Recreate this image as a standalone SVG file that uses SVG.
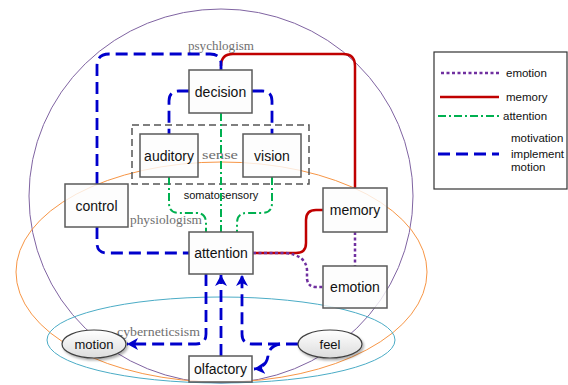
<svg xmlns="http://www.w3.org/2000/svg" width="568" height="385" viewBox="0 0 568 385">
<style>
.bg{fill:none;stroke-width:1}
.box{fill:#fcfcfc;fill-opacity:0.8;stroke:#5a5a5a;stroke-width:1.5}
.ell{fill:url(#eg);stroke:#404040;stroke-width:1.2}
.t{font-family:"Liberation Sans",Arial,sans-serif;font-size:14px;fill:#111;text-anchor:middle}
.te{font-family:"Liberation Sans",Arial,sans-serif;font-size:13px;fill:#111;text-anchor:middle}
.lg{font-family:"Liberation Sans",Arial,sans-serif;font-size:11.5px;fill:#111}
.sf{font-family:"Liberation Serif","Times New Roman",serif;font-size:12px;fill:#707070}
.blue{fill:none;stroke:#0000cc;stroke-width:2.8;stroke-dasharray:12 6}
.red{fill:none;stroke:#c00000;stroke-width:2.5}
.green{fill:none;stroke:#00b050;stroke-width:2;stroke-dasharray:8 3 2 3}
.purple{fill:none;stroke:#7030a0;stroke-width:2.5;stroke-dasharray:3 2.5}
</style>
<defs>
<linearGradient id="eg" x1="0" y1="0" x2="0" y2="1">
<stop offset="0" stop-color="#ffffff"/>
<stop offset="1" stop-color="#dcdcdc"/>
</linearGradient>
<filter id="sh" x="-20%" y="-30%" width="150%" height="170%">
<feDropShadow dx="1.5" dy="2" stdDeviation="1.2" flood-color="#000" flood-opacity="0.3"/>
</filter>
<marker id="ah" markerUnits="userSpaceOnUse" markerWidth="12" markerHeight="12" refX="11" refY="6" orient="auto">
<path d="M0,0 L11,6 L0,12 L3,6 Z" fill="#0000cc"/>
</marker>
</defs>

<g id="regions">
<ellipse class="bg" cx="221" cy="196" rx="192" ry="187" stroke="#8064a2"/>
<ellipse class="bg" cx="221.5" cy="272" rx="205.5" ry="110" stroke="#f79646"/>
<ellipse class="bg" cx="221" cy="340" rx="174" ry="43" stroke="#4bacc6"/>
<rect id="sense" x="132" y="125" width="177" height="59" fill="none" stroke="#555" stroke-width="1.5" stroke-dasharray="7 4"/>
</g>

<g id="labels">
<text class="sf" x="221" y="50" text-anchor="middle" textLength="66" lengthAdjust="spacingAndGlyphs">psychlogism</text>
<text class="sf" x="220" y="159" text-anchor="middle" font-size="13" textLength="36" lengthAdjust="spacingAndGlyphs">sense</text>
<text class="sf" x="130" y="224" textLength="72" lengthAdjust="spacingAndGlyphs">physiologism</text>
<text class="sf" x="117" y="336" textLength="83" lengthAdjust="spacingAndGlyphs">cyberneticsism</text>
<text x="221" y="199" font-family="Liberation Sans,Arial,sans-serif" font-size="11" fill="#111" text-anchor="middle">somatosensory</text>
</g>

<g id="connectors">
<path class="red" d="M221,66 Q221,54 233,54 H343 Q355,54 355,66 V188"/>
<path class="blue" d="M97,184 V66 Q97,54 109,54 H210 Q221,54 221,64 V70"/>
<path class="blue" d="M189,91 H179 Q169,91 169,101 V134"/>
<path class="blue" d="M252,91 H262 Q272,91 272,101 V134"/>
<path class="blue" d="M97,227 V243 Q97,253 107,253 H189"/>
<path class="blue" d="M206,274 V334 Q206,344 196,344 H127" marker-end="url(#ah)"/>
<path class="blue" d="M221,356 V275" marker-end="url(#ah)"/>
<path class="blue" d="M298,344 H252 Q242,344 242,334 V275" marker-end="url(#ah)"/>
<path class="blue" d="M280,344 Q269,346 268,356 Q266,368 254,369" marker-end="url(#ah)"/>
<path class="green" d="M221,113 V232"/>
<path class="green" d="M169,177 V203 Q169,213 179,213 H196 Q206,213 206,223 V232"/>
<path class="green" d="M272,177 V203 Q272,213 262,213 H247 Q237,213 237,223 V232"/>
<path class="red" d="M253,253 H296 Q306,253 306,243 V220 Q306,210 316,210 H323"/>
<path class="purple" d="M253,253 H285 Q306,255 307,270 V279 Q308,287 316,287 H323"/>
<path class="purple" d="M355,232 V266"/>
</g>

<g id="decision"><rect class="box" x="189" y="70" width="63" height="43"/><text class="t" x="220.5" y="96.5">decision</text></g>
<g id="auditory"><rect class="box" x="140" y="134" width="58" height="43"/><text class="t" x="169" y="160.5">auditory</text></g>
<g id="vision"><rect class="box" x="243" y="134" width="58" height="43"/><text class="t" x="272" y="160.5">vision</text></g>
<g id="control"><rect class="box" x="65" y="184" width="63" height="43"/><text class="t" x="96.5" y="210.5">control</text></g>
<g id="attention"><rect class="box" x="189" y="232" width="64" height="42"/><text class="t" x="221" y="258">attention</text></g>
<g id="memory"><rect class="box" x="323" y="188" width="64" height="44"/><text class="t" x="355" y="215">memory</text></g>
<g id="emotion"><rect class="box" x="323" y="266" width="64" height="42"/><text class="t" x="355" y="292">emotion</text></g>
<g id="olfactory"><rect class="box" x="189" y="356" width="63" height="26"/><text class="t" x="220.5" y="374">olfactory</text></g>
<g id="motion"><ellipse class="ell" cx="94" cy="344" rx="32" ry="14" filter="url(#sh)"/><text class="te" x="94" y="348.5">motion</text></g>
<g id="feel"><ellipse class="ell" cx="330" cy="344" rx="32" ry="14" filter="url(#sh)"/><text class="te" x="330" y="348.5">feel</text></g>

<g id="legend">
<rect x="434" y="52" width="133" height="137" fill="#fff" stroke="#333" stroke-width="1.2"/>
<line class="purple" x1="441" y1="73" x2="499" y2="73"/>
<text class="lg" x="506" y="77">emotion</text>
<line class="red" x1="440" y1="97" x2="499" y2="97"/>
<text class="lg" x="506" y="101">memory</text>
<line class="green" x1="438" y1="116" x2="499" y2="116"/>
<text class="lg" x="503" y="120">attention</text>
<line class="blue" x1="438" y1="154" x2="499" y2="154"/>
<text class="lg" x="511" y="142">motivation</text>
<text class="lg" x="511" y="158">implement</text>
<text class="lg" x="511" y="171">motion</text>
</g>
</svg>
